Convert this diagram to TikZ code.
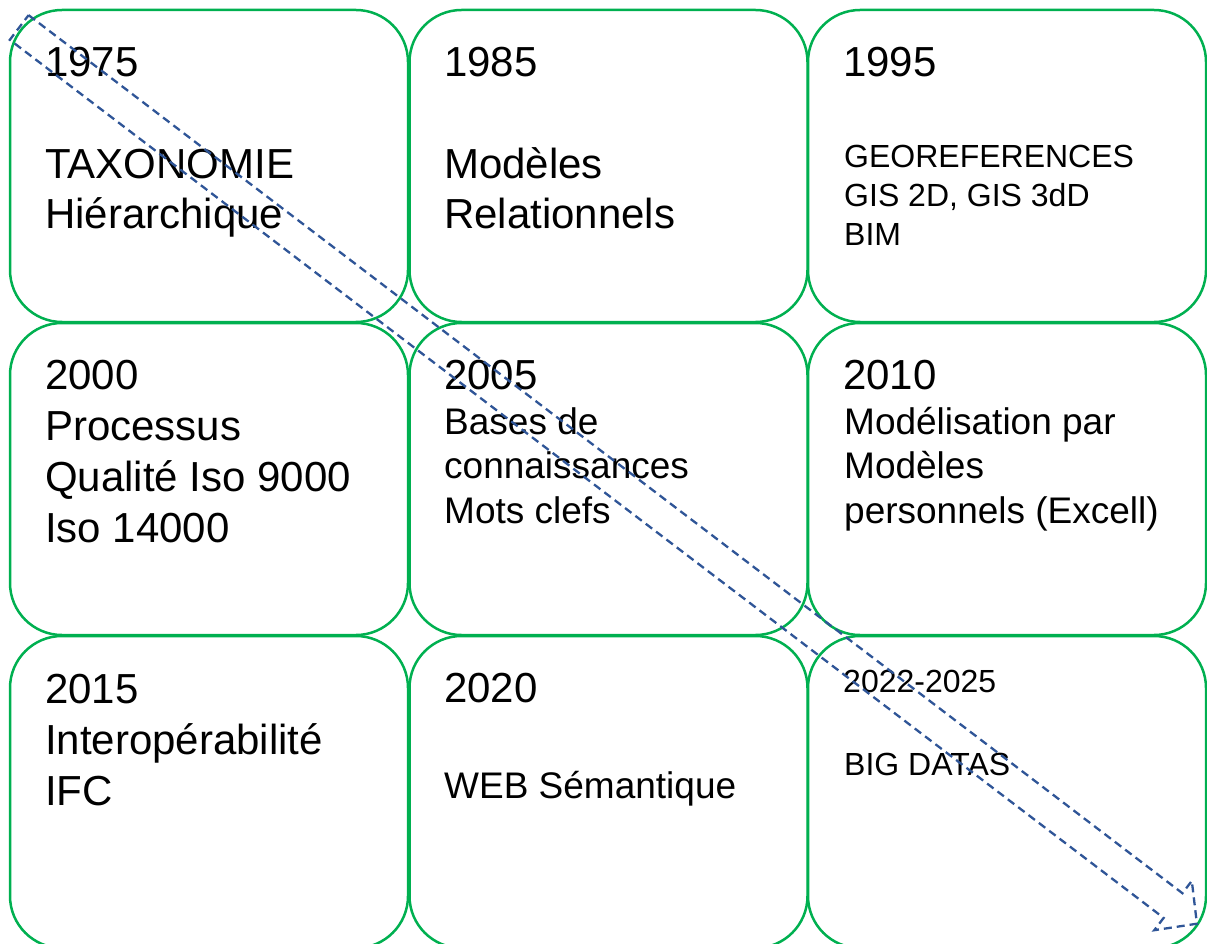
\documentclass[tikz,border=0pt]{standalone}
\usepackage{fontspec}
\setmainfont{Liberation Sans}
\definecolor{boxgreen}{HTML}{00B050}
\definecolor{arrowblue}{HTML}{2F5597}
\begin{document}
\begin{tikzpicture}[x=1pt,y=-1pt,
  box/.style={draw=boxgreen, line width=2.5pt, rounded corners=52pt},
  big/.style={font=\fontsize{42}{51}\selectfont, anchor=base west, inner sep=0pt, align=left},
  mid/.style={font=\fontsize{37}{44.5}\selectfont, anchor=base west, inner sep=0pt, align=left},
  small/.style={font=\fontsize{32}{39}\selectfont, anchor=base west, inner sep=0pt, align=left},
  flow/.style={draw=arrowblue, line width=2.3pt, dash pattern=on 8pt off 5pt, line join=miter}]
\useasboundingbox (0,0) rectangle (1207,944);
% boxes
\draw[box] (10,10) rectangle (408,322);
\draw[box] (409.5,10) rectangle (807.5,322);
\draw[box] (808,10) rectangle (1206,322);
\draw[box] (10,323) rectangle (408,635);
\draw[box] (409.5,323) rectangle (807.5,635);
\draw[box] (808,323) rectangle (1206,635);
\draw[box] (10,636) rectangle (408,948);
\draw[box] (409.5,636) rectangle (807.5,948);
\draw[box] (808,636) rectangle (1206,948);
% texts (multi-line nodes are anchored at the baseline of their last line)
\node[big] (y1) at (45,77) {1975};
\node[big] (t1) at (45,229) {TAXONOMIE\\Hiérarchique};
\node[big] (y2) at (444,77) {1985};
\node[big] (t2) at (444,229) {Modèles\\Relationnels};
\node[big] (y3) at (843,77) {1995};
\node[small] (t3) at (844,245) {GEOREFERENCES\\GIS 2D, GIS 3dD\\BIM};
\node[big] (y4) at (45,389) {2000};
\node[big] (t4) at (45,542) {Processus\\Qualité Iso 9000\\Iso 14000};
\node[big] (y5) at (444,389) {2005};
\node[mid] (t5) at (444,523) {Bases de\\connaissances\\Mots clefs};
\node[big] (y6) at (843,389) {2010};
\node[mid] (t6) at (844,523) {Modélisation par\\Modèles\\personnels (Excell)};
\node[big] (y7) at (45,703) {2015};
\node[big] (t7) at (45,805) {Interopérabilité\\IFC};
\node[big] (y8) at (444,702) {2020};
\node[mid] (t8) at (444,798) {WEB Sémantique};
\node[small] (y9) at (843,692) {2022-2025};
\node[small] (t9) at (844,775) {BIG DATAS};
% dashed block arrow
\begin{scope}[shift={(19.2,27.5)}, rotate=-37.27]
\draw[flow] (0,-15.5) -- (1450,-15.5) -- (1450,-31) -- (1480,0) -- (1450,31) -- (1450,15.5) -- (0,15.5) -- cycle;
\end{scope}
\end{tikzpicture}
\end{document}
